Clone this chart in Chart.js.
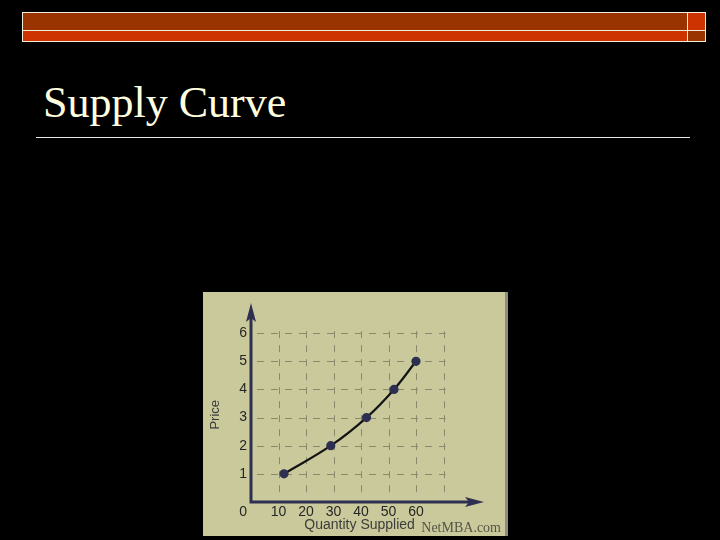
<!DOCTYPE html>
<html>
<head>
<meta charset="utf-8">
<script src="https://cdn.jsdelivr.net/npm/chart.js@4"></script>
<style>
  html, body { margin: 0; padding: 0; width: 720px; height: 540px; background: #000; overflow: hidden; }
  .band { position: absolute; box-sizing: border-box; border: 1px solid #f2eedc; }
  #title { position: absolute; left: 43px; top: 81px; margin: 0; font: 44px "Liberation Serif", "Times New Roman", serif; line-height: 44px; color: #ffffe0; font-weight: normal; }
  #rule { position: absolute; left: 36px; top: 137px; width: 654px; height: 1px; background: #e8e8e8; }
  #figure { position: absolute; left: 203px; top: 292px; width: 302px; height: 244px; background: #c9c99b; border-right: 3px solid #8e8e78; }
  #credit { position: absolute; right: 4px; bottom: 0px; font: 14px "Liberation Serif", "Times New Roman", serif; color: #555549; }
</style>
</head>
<body>
<div class="band" style="left:22px; top:12px; width:666px; height:19px; background:#993300;"></div>
<div class="band" style="left:22px; top:30px; width:666px; height:12px; background:#cc3300;"></div>
<div class="band" style="left:687px; top:12px; width:19px; height:19px; background:#cc3300;"></div>
<div class="band" style="left:687px; top:30px; width:19px; height:12px; background:#993300;"></div>
<h1 id="title">Supply Curve</h1>
<div id="rule"></div>
<div id="figure">
  <canvas id="supplyChart" width="302" height="244"></canvas>
  <div id="credit">NetMBA.com</div>
</div>
<script>
// supply schedule
const quantity = [12, 29, 42, 52, 60];
const price = [1, 2, 3, 4, 5];

// dashed guide lines
const gridQuantity = [10, 20, 30, 40, 50, 60, 70];
const gridPrice = [1, 2, 3, 4, 5, 6];
const priceTicks = [1, 2, 3, 4, 5, 6];
const quantityTicks = [10, 20, 30, 40, 50, 60];

const xTitle = 'Quantity Supplied';
const yTitle = 'Price';

const axisColor = '#2e3052';
const labelColor = '#262626';
const sansFont = '"Liberation Sans", Arial, sans-serif';

// grid stub, axis lines with arrow heads, axis titles and the shared "0" label
const supplyAxes = {
    id: 'supplyAxes',
    beforeDatasetsDraw(chart) {
        const { ctx, scales: { x, y } } = chart;
        const x0 = x.getPixelForValue(0);
        const y0 = y.getPixelForValue(0);
        const gxEnd = x.getPixelForValue(Math.max(...gridQuantity));
        const gyEnd = y.getPixelForValue(Math.max(...gridPrice));

        ctx.save();
        ctx.strokeStyle = '#8a896c';
        ctx.lineWidth = 1;
        ctx.setLineDash([7, 7]);
        gridQuantity.forEach(v => {
            const px = Math.round(x.getPixelForValue(v)) + 0.5;
            ctx.beginPath();
            ctx.moveTo(px, gyEnd - 2);
            ctx.lineTo(px, y0 - 3);
            ctx.stroke();
        });
        gridPrice.forEach(v => {
            const py = Math.round(y.getPixelForValue(v)) + 0.5;
            ctx.beginPath();
            ctx.moveTo(x0 + 6, py);
            ctx.lineTo(gxEnd + 2, py);
            ctx.stroke();
        });
        ctx.setLineDash([]);

        // axes
        ctx.strokeStyle = axisColor;
        ctx.fillStyle = axisColor;
        ctx.lineWidth = 3;
        ctx.beginPath();
        ctx.moveTo(x0, chart.chartArea.top + 12);
        ctx.lineTo(x0, y0);
        ctx.lineTo(chart.chartArea.right - 12, y0);
        ctx.stroke();

        const top = chart.chartArea.top;
        ctx.beginPath();
        ctx.moveTo(x0, top - 2);
        ctx.lineTo(x0 - 5, top + 17);
        ctx.lineTo(x0, top + 13);
        ctx.lineTo(x0 + 5, top + 17);
        ctx.closePath();
        ctx.fill();

        const right = chart.chartArea.right;
        ctx.beginPath();
        ctx.moveTo(right + 2, y0);
        ctx.lineTo(right - 17, y0 - 5);
        ctx.lineTo(right - 13, y0);
        ctx.lineTo(right - 17, y0 + 5);
        ctx.closePath();
        ctx.fill();

        ctx.fillStyle = labelColor;
        ctx.font = '14px ' + sansFont;
        ctx.textAlign = 'right';
        ctx.textBaseline = 'middle';
        ctx.fillText('0', x0 - 4, y0 + 10);

        // axis titles
        ctx.fillStyle = '#3d3d3d';
        ctx.textAlign = 'center';
        ctx.font = '14px ' + sansFont;
        ctx.fillText(xTitle, x.getPixelForValue(39.5), y0 + 23);

        ctx.font = '13px ' + sansFont;
        ctx.translate(12, y.getPixelForValue(3.1));
        ctx.rotate(-Math.PI / 2);
        ctx.fillText(yTitle, 0, 0);
        ctx.restore();
    }
};

new Chart(document.getElementById('supplyChart'), {
    type: 'line',
    data: {
        datasets: [{
            label: 'Supply',
            data: quantity.map((q, i) => ({ x: q, y: price[i] })),
            borderColor: '#141414',
            borderWidth: 2.2,
            tension: 0.4,
            pointRadius: 3.5,
            pointBackgroundColor: axisColor,
            pointBorderColor: axisColor,
            fill: false
        }]
    },
    options: {
        responsive: false,
        animation: false,
        events: [],
        layout: { padding: { left: 0, top: 13, right: 23, bottom: 0 } },
        plugins: { legend: { display: false }, tooltip: { enabled: false } },
        scales: {
            x: {
                type: 'linear',
                min: 0,
                max: 84,
                grid: { display: false, drawTicks: false },
                border: { display: false },
                afterFit: (scale) => { scale.height = 34; },
                ticks: {
                    stepSize: 10,
                    padding: 2,
                    color: labelColor,
                    font: { family: sansFont, size: 14 },
                    maxRotation: 0,
                    autoSkip: false,
                    callback: (v) => quantityTicks.includes(v) ? String(v) : ''
                }
            },
            y: {
                type: 'linear',
                min: 0,
                max: 7,
                grid: { display: false, drawTicks: false },
                border: { display: false },
                afterFit: (scale) => { scale.width = 48; },
                ticks: {
                    stepSize: 1,
                    padding: 4,
                    color: labelColor,
                    font: { family: sansFont, size: 14 },
                    autoSkip: false,
                    callback: (v) => priceTicks.includes(v) ? String(v) : ''
                }
            }
        }
    },
    plugins: [supplyAxes]
});
</script>
</body>
</html>
